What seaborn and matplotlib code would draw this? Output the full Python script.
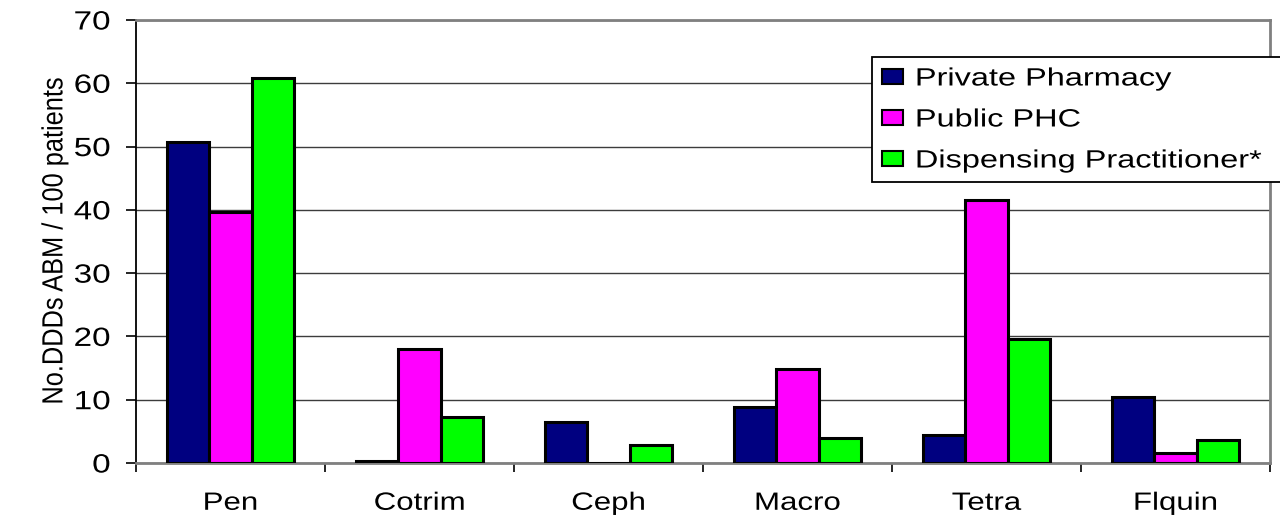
import matplotlib
matplotlib.use("Agg")
import matplotlib.pyplot as plt
import seaborn as sns
import pandas as pd
from matplotlib.ticker import FixedLocator, MultipleLocator
from matplotlib.patheffects import AbstractPathEffect
from matplotlib.transforms import Affine2D

categories = ["Pen", "Cotrim", "Ceph", "Macro", "Tetra", "Flquin"]
series_names = ["Private Pharmacy", "Public PHC", "Dispensing Practitioner*"]
private_pharmacy = [50.8, 0.3, 6.4, 8.8, 4.4, 10.4]
public_phc = [39.7, 18.0, 0.0, 14.8, 41.6, 1.6]
dispensing_practitioner = [60.8, 7.2, 2.8, 3.9, 19.6, 3.6]
colors = ["#000080", "#FF00FF", "#00FF00"]
y_label = "No.DDDs ABM / 100 patients"


class Stretch(AbstractPathEffect):
    """Widen (or narrow) text glyphs along the writing direction."""

    def __init__(self, sx, anchor="center"):
        super().__init__()
        self.sx = sx
        self.anchor = anchor

    def draw_path(self, renderer, gc, tpath, affine, rgbFace=None):
        ext = tpath.get_extents()
        if self.anchor == "left":
            x0 = ext.x0
        elif self.anchor == "right":
            x0 = ext.x1
        else:
            x0 = (ext.x0 + ext.x1) / 2
        t = Affine2D().translate(-x0, 0).scale(self.sx, 1).translate(x0, 0)
        renderer.draw_path(gc, tpath, t + affine, rgbFace)


rows = []
for name, vals in zip(series_names, [private_pharmacy, public_phc, dispensing_practitioner]):
    for cat, v in zip(categories, vals):
        rows.append({"Category": cat, "Series": name, "Value": v})
df = pd.DataFrame(rows)

sns.set_theme(style="white")
plt.rcParams["font.family"] = ["Liberation Sans", "DejaVu Sans"]
plt.rcParams["text.color"] = "black"
plt.rcParams["axes.labelcolor"] = "black"
plt.rcParams["xtick.color"] = "black"
plt.rcParams["ytick.color"] = "black"

fig = plt.figure(figsize=(12.8, 5.18), dpi=100)
ax = fig.add_axes([136 / 1280, 1 - 463 / 518, 1134 / 1280, 443 / 518])

sns.barplot(data=df, x="Category", y="Value", hue="Series", order=categories,
            hue_order=series_names, palette=colors, width=0.67,
            edgecolor="black", linewidth=2.2, saturation=1, ax=ax, zorder=3)

ax.set_ylim(0, 70)
ax.set_xlim(-0.5, len(categories) - 0.5)
ax.yaxis.set_major_locator(MultipleLocator(10))
ax.grid(axis="y", color="#3c3c3c", linewidth=1.0, zorder=0)
ax.set_axisbelow(True)

for side in ["top", "right", "bottom"]:
    ax.spines[side].set_visible(True)
    ax.spines[side].set_color("#808080")
    ax.spines[side].set_linewidth(2)
ax.spines["left"].set_color("black")
ax.spines["left"].set_linewidth(1.3)

ax.tick_params(axis="y", which="major", direction="out", length=7, width=1.2,
               color="black", left=True, labelsize=19, pad=11.5)
ax.xaxis.set_minor_locator(FixedLocator([i - 0.5 for i in range(len(categories) + 1)]))
ax.tick_params(axis="x", which="minor", direction="out", length=6.5, width=1.2,
               color="black", bottom=True)
ax.tick_params(axis="x", which="major", length=0, labelsize=18, pad=20)

for lab in ax.get_xticklabels():
    lab.set_path_effects([Stretch(1.25, "center")])
for lab in ax.get_yticklabels():
    lab.set_path_effects([Stretch(1.26, "right")])

ax.set_xlabel("")
ax.set_ylabel(y_label, fontsize=21, labelpad=9)
ax.yaxis.label.set_path_effects([Stretch(0.87, "center")])

leg = ax.legend(loc="upper left",
                bbox_to_anchor=(872 / 1280, 1 - 187 / 518, 440 / 1280, 130 / 518),
                bbox_transform=fig.transFigure, mode="expand", borderaxespad=0,
                fontsize=18, frameon=True, fancybox=False, shadow=False,
                edgecolor="black", handlelength=0.84, handleheight=0.56,
                handletextpad=0.52, labelspacing=0.68, borderpad=0.38, title=None)
leg.get_frame().set_linewidth(1.3)
leg.get_frame().set_alpha(1)
for h in leg.legend_handles:
    h.set_edgecolor("black")
    h.set_linewidth(1.5)
for t in leg.get_texts():
    t.set_path_effects([Stretch(1.3, "left")])

fig.savefig("out.png", dpi=100)
